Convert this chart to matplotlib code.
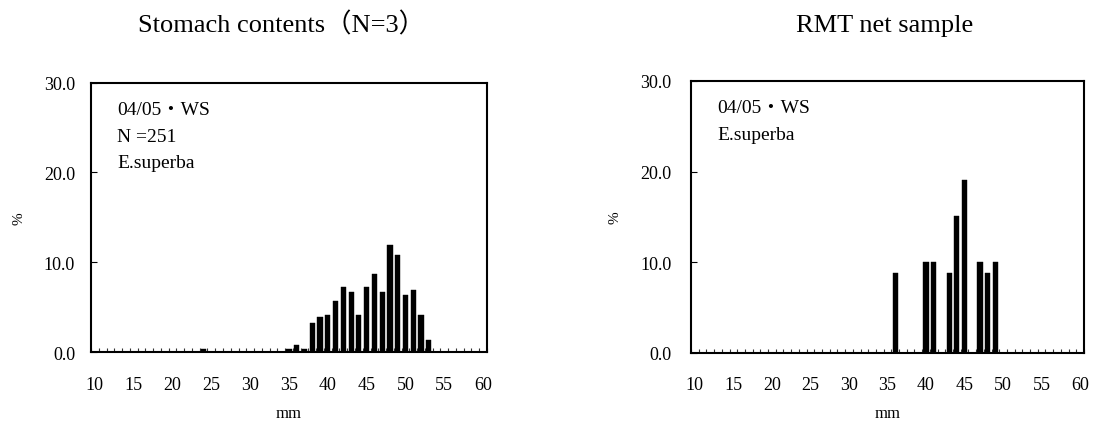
import matplotlib
matplotlib.use("Agg")
import matplotlib.pyplot as plt
from matplotlib.ticker import FixedLocator, FuncFormatter

# Body length classes (mm) and frequency (%) for each sample
stomach_lengths = [24, 35, 36, 37, 38, 39, 40, 41, 42, 43, 44, 45, 46, 47, 48, 49, 50, 51, 52, 53]
stomach_pct = [0.4, 0.4, 0.8, 0.4, 3.3, 3.9, 4.1, 5.7, 7.3, 6.7, 4.1, 7.3, 8.7, 6.7, 11.9, 10.8, 6.4, 6.9, 4.1, 1.4]

net_lengths = [36, 40, 41, 43, 44, 45, 47, 48, 49]
net_pct = [8.8, 10.0, 10.0, 8.8, 15.1, 19.1, 10.0, 8.8, 10.0]

x_labels = [10, 15, 20, 25, 30, 35, 40, 45, 50, 55, 60]
y_ticks = [0, 10, 20, 30]

titles = ["Stomach contents\uff08N=3\uff09", "RMT net sample"]
notes = [["04/05\u30fbWS", "N =251", "E.superba"], ["04/05\u30fbWS", "E.superba"]]

FONT = ["Liberation Serif", "Noto Sans CJK JP", "DejaVu Sans"]
plt.rcParams["font.family"] = FONT

W, H = 1093, 427
fig = plt.figure(figsize=(W / 100, H / 100), dpi=100)


def px_axes(left, top, right, bottom):
    return fig.add_axes([left / W, 1 - bottom / H, (right - left) / W, (bottom - top) / H])


ax1 = px_axes(91, 83.5, 487, 353.3)
ax2 = px_axes(691, 82, 1084, 353.5)


def style(ax, lengths, pct, lines, ylab_x, ytick_pad):
    ax.bar(lengths, pct, width=0.66, color="black", edgecolor="black", linewidth=0.3, zorder=3)
    ax.set_xlim(9.5, 60.5)
    ax.set_ylim(0, 30)
    for s in ax.spines.values():
        s.set_linewidth(1.5)
        s.set_color("black")
    ax.xaxis.set_major_locator(FixedLocator(x_labels))
    ax.xaxis.set_minor_locator(FixedLocator([v + 0.5 for v in range(9, 61)]))
    ax.tick_params(axis="x", which="major", length=0, pad=17, labelsize=13)
    ax.tick_params(axis="x", which="minor", direction="in", length=3, width=0.8, color="#333333")
    ax.yaxis.set_major_locator(FixedLocator(y_ticks))
    ax.yaxis.set_major_formatter(FuncFormatter(lambda v, p: f"{v:.1f}"))
    ax.tick_params(axis="y", which="major", direction="in", length=4, width=0.8,
                   pad=ytick_pad, labelsize=13)
    ax.set_xlabel("mm", fontsize=12, va="baseline")
    ax.xaxis.set_label_coords(0.5, -0.238)
    ax.set_ylabel("%", fontsize=11)
    ax.yaxis.set_label_coords(ylab_x, 0.5)
    for i, line in enumerate(lines):
        ax.text(0.066, 0.884 - i * 0.099, line, transform=ax.transAxes, fontsize=14,
                ha="left", va="baseline", family=FONT)


style(ax1, stomach_lengths, stomach_pct, notes[0], -0.165, 11.5)
style(ax2, net_lengths, net_pct, notes[1], -0.177, 14)

fig.text(282 / W, 1 - 32 / H, titles[0], ha="center", va="baseline", fontsize=19, family=FONT)
fig.text(885 / W, 1 - 32 / H, titles[1], ha="center", va="baseline", fontsize=19, family=FONT)

fig.savefig("out.png", dpi=100, facecolor="white")
